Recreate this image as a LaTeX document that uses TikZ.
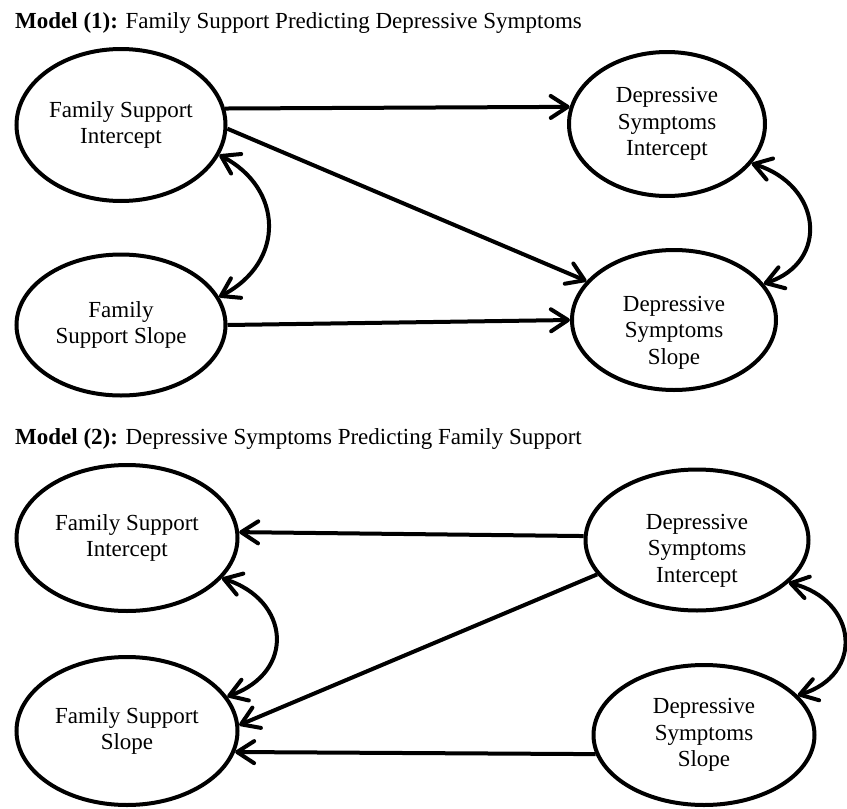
\documentclass[tikz,border=0pt]{standalone}
\usepackage{fontspec}
\setmainfont{Liberation Serif}
\usetikzlibrary{shapes.geometric,arrows.meta}
\begin{document}
\begin{tikzpicture}[x=1pt,y=-1pt,
  lat/.style={ellipse,draw,line width=4pt,inner sep=0pt,align=center,
    font=\fontsize{23}{26.5}\selectfont},
  ttl/.style={anchor=base west,inner sep=0pt,font=\fontsize{23}{27}\selectfont},
  path1/.style={line width=4pt,-{Straight Barb[length=17pt,width=22pt,round]}},
  cov/.style={line width=4pt,{Straight Barb[length=17pt,width=22pt,round]}-{Straight Barb[length=17pt,width=22pt,round]}}]
\useasboundingbox (0,0) rectangle (847,809);
% Model 1
\node[ttl] (t1) at (15,28) {\textbf{Model (1):} Family Support Predicting Depressive Symptoms};
\node[lat,minimum width=209pt,minimum height=152pt] (fsi1) at (121,125) {Family Support\\Intercept};
\node[lat,minimum width=209pt,minimum height=141pt] (fss1) at (121,325) {Family\\Support Slope};
\node[lat,minimum width=196pt,minimum height=144pt] (dsi1) at (667,124) {Depressive\\Symptoms\\Intercept};
\node[lat,minimum width=204pt,minimum height=140pt] (dss1) at (674,320) {\rule{0pt}{40pt}Depressive\\Symptoms\\Slope};
\draw[path1] (fsi1.9.4) -- (dsi1.170.5);
\draw[path1] (fsi1.-2) -- (dss1.156);
\draw[path1] (fss1.east) -- (dss1.west);
\draw[cov] (fsi1.-17) .. controls (283,188) and (286,262) .. (fss1.16);
\draw[cov] (dsi1.-25) .. controls (822,185) and (830,262) .. (dss1.22);
% Model 2
\node[ttl] (t2) at (15,444) {\textbf{Model (2):} Depressive Symptoms Predicting Family Support};
\node[lat,minimum width=221pt,minimum height=146pt] (fsi2) at (127,538) {Family Support\\Intercept};
\node[lat,minimum width=221pt,minimum height=148pt] (fss2) at (127,731) {Family Support\\Slope};
\node[lat,minimum width=223pt,minimum height=141pt] (dsi2) at (697,540) {\rule{0pt}{36pt}Depressive\\Symptoms\\Intercept};
\node[lat,minimum width=221pt,minimum height=140pt] (dss2) at (704,735) {Depressive\\Symptoms\\Slope};
\draw[path1] (dsi2.178) -- (fsi2.3);
\draw[path1] (dsi2.199) -- (fss2.3);
\draw[path1] (dss2.190) -- (fss2.-11);
\draw[cov] (fsi2.-23) .. controls (290,600) and (296,672) .. (fss2.19);
\draw[cov] (dsi2.-25) .. controls (858,600) and (865,675) .. (dss2.23);
\end{tikzpicture}
\end{document}
